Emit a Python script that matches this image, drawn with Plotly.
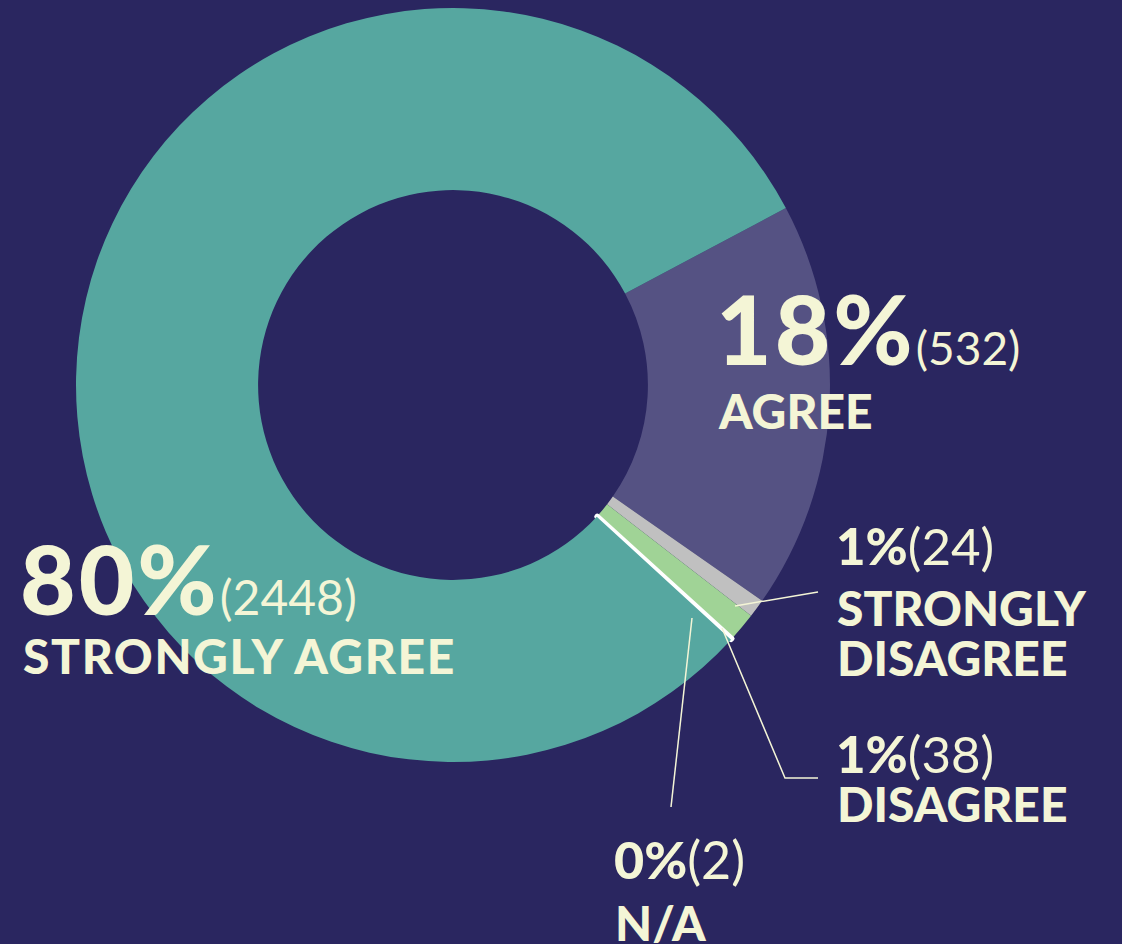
import plotly.graph_objects as go

# ---- data ----
labels = ["AGREE", "STRONGLY DISAGREE", "DISAGREE", "N/A", "STRONGLY AGREE"]
counts = [532, 24, 38, 2, 2448]
pct_labels = ["18%", "1%", "1%", "0%", "80%"]
label_lines = [["AGREE"], ["STRONGLY", "DISAGREE"], ["DISAGREE"], ["N/A"], ["STRONGLY AGREE"]]

# ---- style ----
BG = "#2a2660"
CREAM = "#f4f5d6"
slice_colors = ["#555283", "#c0c0c0", "#a0d396", "#ffffff", "#56a7a0"]
slice_line_w = [0, 0, 0, 5, 0]
FONT = "Lato"
BOLD = 900
W, H = 1122, 944


def px(x):
    return x / W


def py(y):
    return 1 - y / H


fig = go.Figure()
fig.add_trace(go.Pie(
    labels=labels,
    values=counts,
    hole=0.517,
    sort=False,
    direction="clockwise",
    rotation=62,
    textinfo="none",
    hoverinfo="label+value+percent",
    marker=dict(colors=slice_colors,
                line=dict(color="#ffffff", width=slice_line_w)),
    domain=dict(x=[px(76), px(830)], y=[py(762), py(8)]),
    showlegend=False,
))

annotations = []


def add_text(text, x, y, size):
    annotations.append(dict(
        text=text, x=px(x), y=py(y), xref="paper", yref="paper",
        xanchor="left", yanchor="middle", showarrow=False,
        font=dict(family=FONT, size=size, color=CREAM, weight=BOLD),
    ))


def head(i, small, spacing=0):
    return (f"<span style='letter-spacing:{spacing}px'>{pct_labels[i]}</span>"
            f"<span style='font-size:{small}px;font-weight:400'>({counts[i]})</span>")


def spaced(s, spacing):
    return f"<span style='letter-spacing:{spacing}px'>{s}</span>"


# STRONGLY AGREE (index 4)
add_text(head(4, 48, 3), 18, 577, 96)
add_text(spaced(label_lines[4][0], 1.6), 21, 655, 48)
# AGREE (index 0)
add_text(head(0, 46, 3), 714, 327, 96)
add_text(label_lines[0][0], 716, 410, 48)
# STRONGLY DISAGREE (index 1)
add_text(head(1, 51), 834, 545, 51)
add_text(label_lines[1][0], 835, 607, 48)
add_text(label_lines[1][1], 835, 657, 48)
# DISAGREE (index 2)
add_text(head(2, 51), 834, 753, 51)
add_text(label_lines[2][0], 835, 803, 48)
# N/A (index 3)
add_text(head(3, 52), 612, 859, 52)
add_text(label_lines[3][0], 613, 922, 48)

# leader lines (pixel positions converted to paper)
leaders = [
    [(735, 606), (818, 592)],
    [(722, 628), (785, 778), (818, 778)],
    [(692, 618), (671, 807)],
]
shapes = []
for pts in leaders:
    path = "M " + " L ".join(f"{px(x)},{py(y)}" for x, y in pts)
    shapes.append(dict(type="path", path=path, xref="paper", yref="paper",
                       line=dict(color=CREAM, width=1.5)))

fig.update_layout(
    width=W, height=H,
    margin=dict(l=0, r=0, t=0, b=0),
    paper_bgcolor=BG, plot_bgcolor=BG,
    annotations=annotations,
    shapes=shapes,
    showlegend=False,
)

fig.write_html(
    "out.html",
    config={"displayModeBar": False},
    post_script=("document.body.style.margin='0';"
                 "document.body.style.background='" + BG + "';"
                 "document.body.style.overflow='hidden';"),
)
